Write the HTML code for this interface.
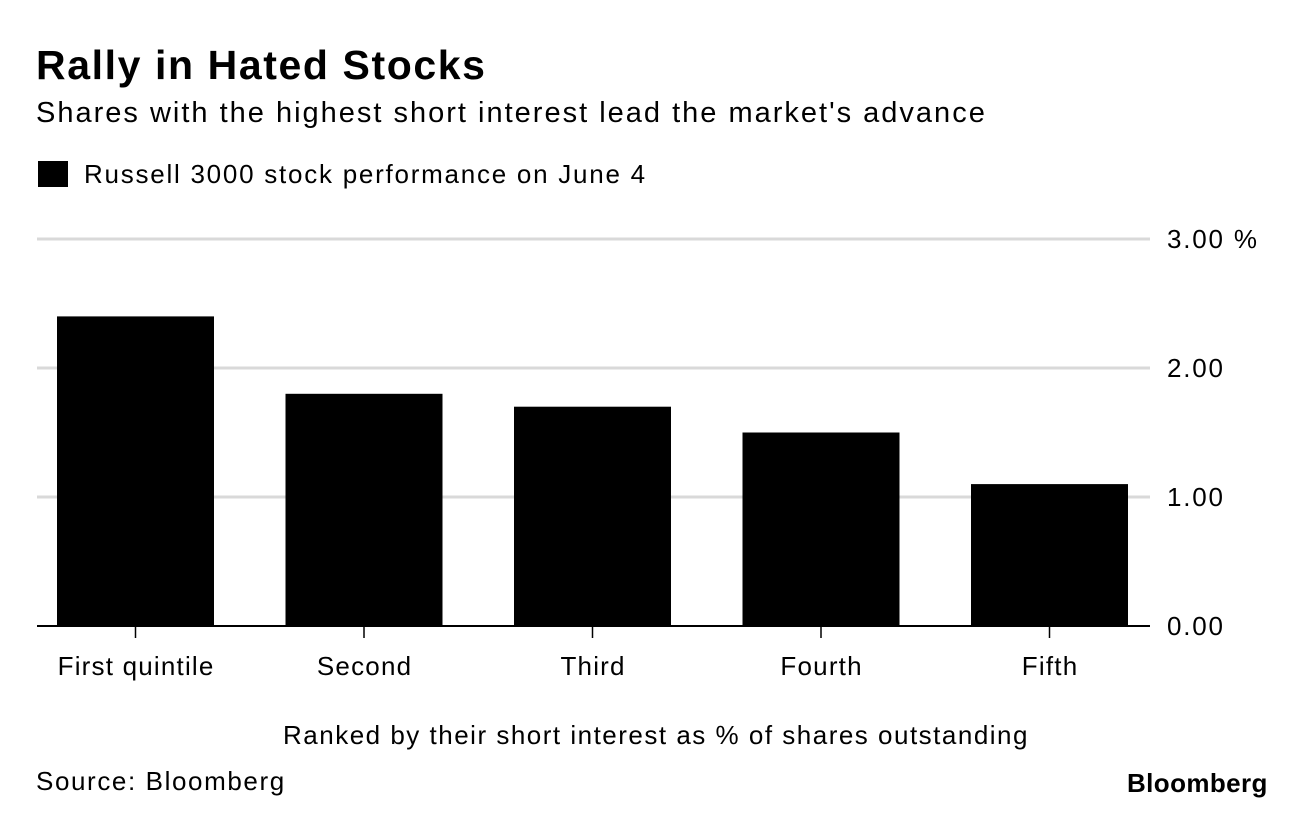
<!DOCTYPE html>
<html><head><meta charset="utf-8"><style>
body{margin:0;width:1296px;height:814px;background:#fff;font-family:"Liberation Sans",sans-serif;overflow:hidden;position:relative}
.t{position:absolute;white-space:nowrap;color:#000}
</style></head><body>
<div class="t" style="left:36px;top:42px;font-size:41px;font-weight:bold;letter-spacing:1.6px">Rally in Hated Stocks</div>
<div class="t" style="left:36px;top:97px;font-size:29px;letter-spacing:2px">Shares with the highest short interest lead the market's advance</div>
<div style="position:absolute;left:38px;top:161px;width:30px;height:26px;background:#000"></div>
<div class="t" style="left:84px;top:159px;font-size:26px;letter-spacing:1.75px">Russell 3000 stock performance on June 4</div>
<svg id="c" width="1296" height="814" style="position:absolute;left:0;top:0"></svg>
<div class="t" style="left:283px;top:720px;font-size:26px;letter-spacing:1.5px">Ranked by their short interest as % of shares outstanding</div>
<div class="t" style="left:36px;top:766px;font-size:26px;letter-spacing:1.6px">Source: Bloomberg</div>
<div class="t" style="left:1127px;top:768px;font-size:26px;font-weight:bold;letter-spacing:0.4px">Bloomberg</div>
<script>
const categories=["First quintile","Second","Third","Fourth","Fifth"];
const values=[2.40,1.80,1.70,1.50,1.10];
const ticks=[0,1,2,3];
const tickLabels=["0.00","1.00","2.00","3.00 %"];
const svg=document.getElementById('c');
const NS='http://www.w3.org/2000/svg';
const y=v=>626-v*129;
const xc=i=>135.5+i*228.5;
function mk(t,a){const e=document.createElementNS(NS,t);for(const k in a)e.setAttribute(k,a[k]);svg.appendChild(e);return e;}
ticks.forEach((v,i)=>{
 if(v>0){const l=mk('line',{x1:37,x2:1150,y1:y(v),y2:y(v),stroke:'#d9d9d9','stroke-width':3});
 
 }
 const t=mk('text',{x:1167,y:y(v)+9,'font-size':26,'letter-spacing':1.8,'font-family':'Liberation Sans'});
 t.textContent=tickLabels[i];
 
 
});
categories.forEach((c,i)=>{
 const r=mk('rect',{x:xc(i)-78.5,y:y(values[i]),width:157,height:626-y(values[i]),fill:'#000'});
 
 
 const tk=mk('line',{x1:xc(i),x2:xc(i),y1:626,y2:638,stroke:'#000','stroke-width':1.5});
 
 
 const t=mk('text',{x:xc(i)+0.6,y:675,'font-size':26,'letter-spacing':1.2,'text-anchor':'middle','font-family':'Liberation Sans'});
 t.textContent=c;
 
 
});
const ax=mk('line',{x1:37,x2:1150,y1:626,y2:626,stroke:'#000','stroke-width':2});


</script>
</body></html>
